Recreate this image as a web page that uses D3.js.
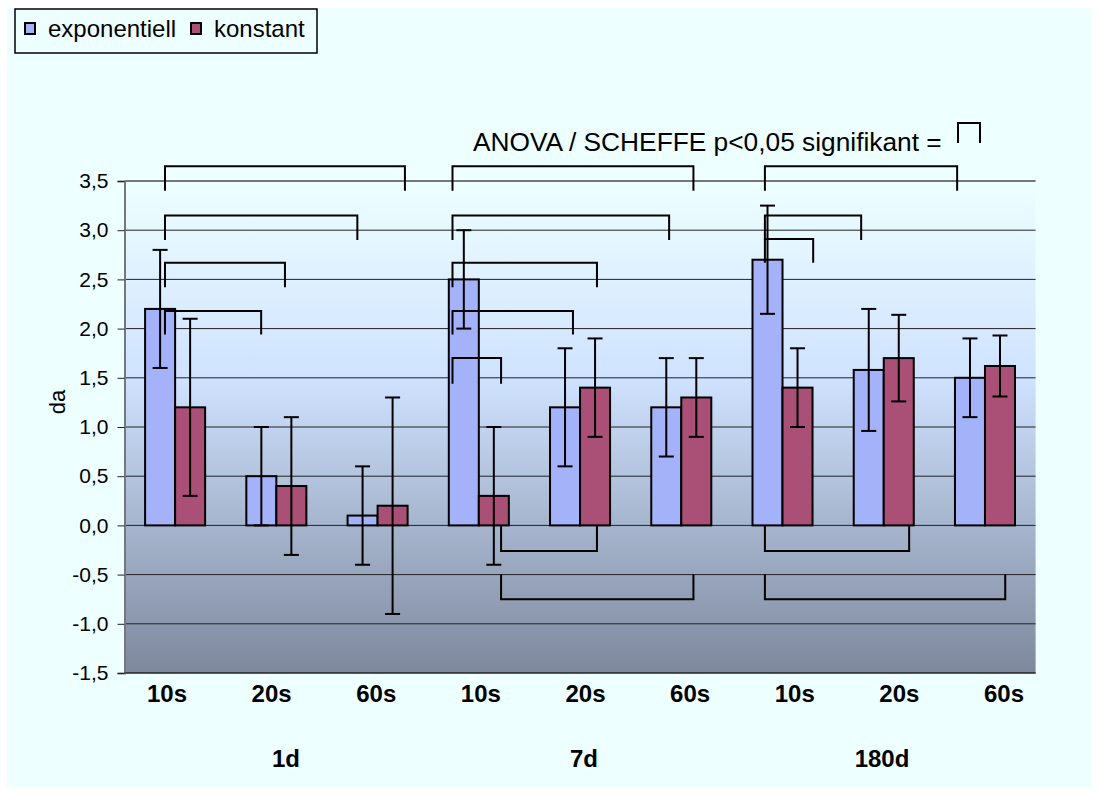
<!DOCTYPE html>
<html><head><meta charset="utf-8">
<script src="https://cdn.jsdelivr.net/npm/d3@7"></script>
<style>
body{margin:0;background:#ffffff}
text{font-family:"Liberation Sans",Arial,Helvetica,sans-serif;fill:#000}
</style>
</head><body>
<svg id="chart" width="1098" height="794"></svg>
<script>
// ---------- data ----------
const categories = ["10s","20s","60s","10s","20s","60s","10s","20s","60s"];
const groups = ["1d","7d","180d"];
const seriesNames = ["exponentiell","konstant"];
const expMean = [2.2, 0.5, 0.1, 2.5, 1.2, 1.2, 2.7, 1.58, 1.5];
const expErr  = [0.6, 0.5, 0.5, 0.5, 0.6, 0.5, 0.55, 0.62, 0.4];
const konMean = [1.2, 0.4, 0.2, 0.3, 1.4, 1.3, 1.4, 1.7, 1.62];
const konErr  = [0.9, 0.7, 1.1, 0.7, 0.5, 0.4, 0.4, 0.44, 0.31];
const yTicks = [-1.5,-1.0,-0.5,0,0.5,1.0,1.5,2.0,2.5,3.0,3.5];
// significance brackets: [x1, x2 (category units), line y, leg end y]
const brackets = [
  [0.40, 2.77, 3.65, 3.40],
  [0.40, 2.30, 3.15, 2.90],
  [0.40, 1.585, 2.67, 2.42],
  [0.40, 1.35, 2.18, 1.94],
  [3.24, 5.62, 3.65, 3.40],
  [3.24, 5.38, 3.15, 2.90],
  [3.24, 4.667, 2.67, 2.42],
  [3.24, 4.43, 2.18, 1.94],
  [3.24, 3.72, 1.70, 1.44],
  [6.326, 8.225, 3.65, 3.40],
  [6.326, 7.277, 3.15, 2.90],
  [6.326, 6.803, 2.91, 2.67],
  [3.72, 4.667, -0.26, 0.0],
  [3.72, 5.62, -0.75, -0.50],
  [6.326, 7.751, -0.26, 0.0],
  [6.326, 8.70, -0.75, -0.50]
];
const annotationText = "ANOVA / SCHEFFE p<0,05 signifikant =";
const colors = ["#A4B3F9", "#AA4F76"];

// ---------- layout ----------
const svg = d3.select("#chart");
const W = 1098, H = 794;
const plot = {left:124.5, right:1035.6, top:181, bottom:673};

// chart background
svg.append("rect").attr("x",7).attr("y",8).attr("width",W-14).attr("height",H-15).attr("fill","#EEFFFF");

const defs = svg.append("defs");
const grad = defs.append("linearGradient").attr("id","pg").attr("x1",0).attr("y1",0).attr("x2",0).attr("y2",1);
grad.append("stop").attr("offset","0%").attr("stop-color","#EEFFFF");
grad.append("stop").attr("offset","40%").attr("stop-color","#CFE2FF");
grad.append("stop").attr("offset","100%").attr("stop-color","#7D889C");

const idx = d3.range(categories.length);
const x = d3.scaleBand().domain(idx).range([plot.left, plot.right]).paddingInner(0.407).paddingOuter(0.2035);
const xs = d3.scaleBand().domain([0,1]).range([0, x.bandwidth()]);
const xu = d3.scaleLinear().domain([0, categories.length]).range([plot.left, plot.right]);
const y = d3.scaleLinear().domain([-1.5, 3.5]).range([plot.bottom, plot.top]);

// plot area
svg.append("rect").attr("x",plot.left).attr("y",plot.top).attr("width",plot.right-plot.left)
  .attr("height",plot.bottom-plot.top).attr("fill","url(#pg)");

// gridlines
svg.append("g").selectAll("line").data(yTicks).join("line")
  .attr("x1",plot.left).attr("x2",plot.right)
  .attr("y1",d=>y(d)).attr("y2",d=>y(d))
  .attr("stroke",d=>d===3.5?"#777":"#222")
  .attr("stroke-width",d=>d===3.5?2:1);

// y axis
const fmt = d => d.toFixed(1).replace(".", ",");
const yAxis = svg.append("g").attr("transform",`translate(${plot.left},0)`)
  .call(d3.axisLeft(y).tickValues(yTicks).tickSize(7).tickPadding(9).tickFormat(fmt));
yAxis.select(".domain").attr("stroke","#777").attr("stroke-width",2);
yAxis.selectAll(".tick line").attr("stroke","#222");
yAxis.selectAll(".tick text").attr("font-size",21).attr("font-family",'"Liberation Sans",Arial,sans-serif').attr("fill","#000");

// bottom line
svg.append("line").attr("x1",plot.left).attr("x2",plot.right).attr("y1",plot.bottom).attr("y2",plot.bottom)
  .attr("stroke","#222").attr("stroke-width",1);

// bars
const barData = [];
idx.forEach(i => {
  barData.push({i, s:0, m:expMean[i], e:expErr[i]});
  barData.push({i, s:1, m:konMean[i], e:konErr[i]});
});
svg.append("g").selectAll("rect").data(barData).join("rect")
  .attr("x",d=>x(d.i)+xs(d.s)).attr("width",xs.bandwidth())
  .attr("y",d=>y(Math.max(0,d.m))).attr("height",d=>Math.abs(y(d.m)-y(0)))
  .attr("fill",d=>colors[d.s]).attr("stroke","#000").attr("stroke-width",2);

// error bars
const eb = svg.append("g").attr("stroke","#000").attr("stroke-width",2);
barData.forEach(d => {
  const cx = x(d.i)+xs(d.s)+xs.bandwidth()/2;
  eb.append("line").attr("x1",cx).attr("x2",cx).attr("y1",y(d.m-d.e)).attr("y2",y(d.m+d.e));
  [d.m-d.e, d.m+d.e].forEach(v => eb.append("line").attr("x1",cx-7.5).attr("x2",cx+7.5).attr("y1",y(v)).attr("y2",y(v)));
});

// brackets
svg.append("g").selectAll("path").data(brackets).join("path")
  .attr("d",b=>`M${xu(b[0])},${y(b[3])}V${y(b[2])}H${xu(b[1])}V${y(b[3])}`)
  .attr("fill","none").attr("stroke","#000").attr("stroke-width",2);

// category labels
const xl = d3.scalePoint().domain(idx).range([167, 1004]);
svg.append("g").selectAll("text").data(categories).join("text")
  .attr("x",(d,i)=>xl(i)).attr("y",702).attr("text-anchor","middle")
  .attr("font-size",24).attr("font-weight","bold").text(d=>d);
const xg = d3.scalePoint().domain(d3.range(groups.length)).range([286, 882]);
svg.append("g").selectAll("text").data(groups).join("text")
  .attr("x",(d,i)=>xg(i)).attr("y",767).attr("text-anchor","middle")
  .attr("font-size",24).attr("font-weight","bold").text(d=>d);

// y title
svg.append("text").attr("transform","translate(65,402) rotate(-90)").attr("text-anchor","middle")
  .attr("font-size",22).text("da");

// annotation
svg.append("text").attr("x",473).attr("y",151).attr("font-size",26.3).text(annotationText);
svg.append("path").attr("d","M958,143V123H980V143").attr("fill","none").attr("stroke","#000").attr("stroke-width",2);

// legend
const lg = svg.append("g");
lg.append("rect").attr("x",15).attr("y",9).attr("width",302).attr("height",44)
  .attr("fill","#EEFFFF").attr("stroke","#000").attr("stroke-width",1.5);
const legX = [25, 191];
seriesNames.forEach((n,i) => {
  lg.append("rect").attr("x",legX[i]).attr("y",23).attr("width",10).attr("height",11)
    .attr("fill",colors[i]).attr("stroke","#000").attr("stroke-width",2);
  lg.append("text").attr("x",legX[i]+23).attr("y",37).attr("font-size",24).text(n);
});
</script>
</body></html>
